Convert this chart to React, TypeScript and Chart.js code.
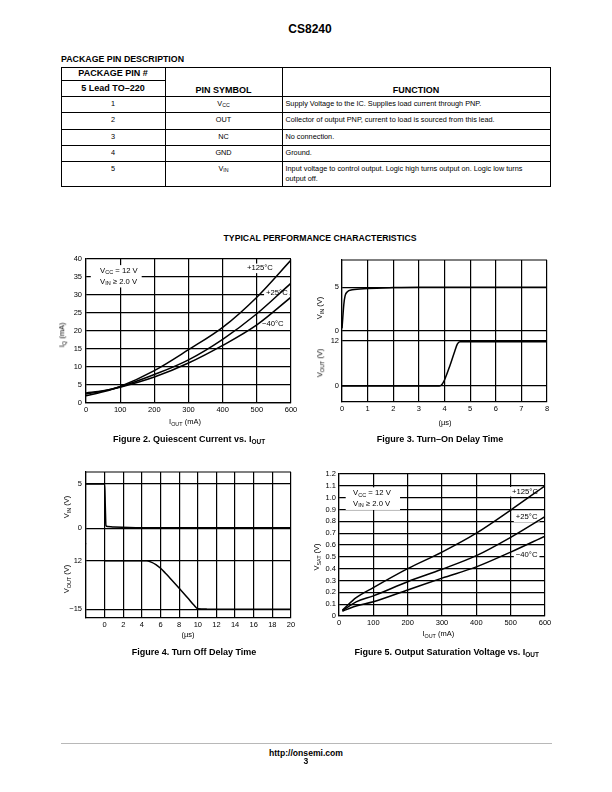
import React, { useEffect, useRef } from 'react';
import { Chart, registerables } from 'chart.js';

Chart.register(...registerables);

const FONT = "'Liberation Sans', Arial, Helvetica, sans-serif";
const NARROW = "'Liberation Sans Narrow', 'Arial Narrow', 'Liberation Sans', Arial, sans-serif";

// ---------- Figure 2: Quiescent Current vs. IOUT ----------
const fig2Iout = [0, 50, 100, 200, 300, 400, 500, 600];
const fig2Iq125 = [2.0, 3.1, 4.6, 9.0, 14.8, 21.0, 29.4, 39.7];
const fig2Iq25 = [2.5, 3.3, 4.5, 7.9, 12.0, 17.7, 24.8, 33.3];
const fig2IqM40 = [2.8, 3.4, 4.4, 7.2, 11.1, 16.0, 21.7, 29.4];
const fig2XTicks = [0, 100, 200, 300, 400, 500, 600];
const fig2YTicks = [0, 5, 10, 15, 20, 25, 30, 35, 40];

// ---------- Figure 3: Turn-On Delay Time ----------
const fig3VinTime = [0, 0.03, 0.07, 0.12, 0.2, 0.4, 1, 2, 3, 8];
const fig3Vin = [0.3, 1.5, 3.0, 4.0, 4.45, 4.7, 4.85, 4.95, 5.0, 5.0];
const fig3VoutTime = [0, 3.8, 3.9, 4.0, 4.2, 4.4, 4.5, 4.6, 8];
const fig3Vout = [0, 0, 0.4, 1.6, 5.2, 9.3, 11.2, 11.85, 11.85];
const fig3TimeTicks = [0, 1, 2, 3, 4, 5, 6, 7, 8];
const fig3VinTicks = [0, 5];
const fig3VoutTicks = [0, 12];

// ---------- Figure 4: Turn Off Delay Time ----------
const fig4VinTime = [-2, 0, 0.07, 0.14, 0.3, 1, 4, 20];
const fig4Vin = [5, 5, 2.5, 0.3, 0.2, 0.15, 0.06, 0.05];
const fig4VoutTime = [0, 4.5, 5, 5.5, 6, 6.5, 7, 8, 9, 9.6, 10, 11, 20];
const fig4Vout = [12, 12, 11.2, 9.8, 7.8, 5.2, 2.4, -3.3, -9.2, -12.8, -14.7, -14.9, -15];
const fig4TimeTicks = [-2, 0, 2, 4, 6, 8, 10, 12, 14, 16, 18, 20];
const fig4VinTicks = [0, 5];
const fig4VoutTicks = [-15, 12];

// ---------- Figure 5: Output Saturation Voltage vs. IOUT ----------
const fig5Iout = [10, 50, 100, 200, 300, 400, 500, 600];
const fig5Vsat125 = [0.05, 0.155, 0.24, 0.4, 0.54, 0.7, 0.895, 1.1];
const fig5Vsat25 = [0.045, 0.12, 0.17, 0.29, 0.395, 0.51, 0.665, 0.84];
const fig5VsatM40 = [0.04, 0.085, 0.12, 0.22, 0.32, 0.415, 0.54, 0.675];
const fig5XTicks = [0, 100, 200, 300, 400, 500, 600];
const fig5YTicks = [0, 0.1, 0.2, 0.3, 0.4, 0.5, 0.6, 0.7, 0.8, 0.9, 1.0, 1.1, 1.2];

const fmtNum = (v: number) => (v < 0 ? '\u2212' + Math.abs(v) : String(v));
const fmtDec = (v: number) => (v === 0 ? '0' : v.toFixed(1));
const fmtTime4 = (v: number) => (v === -2 ? '' : String(v));

type Part = { t: string; sub?: boolean };
type Note = { x: number; y: number; parts: Part[]; bg?: boolean };
type Box = { x0: number; x1: number; y0: number; y1: number };

const NOTE_SIZE = 7.7;

function measureRich(ctx: CanvasRenderingContext2D, parts: Part[], size: number) {
  let w = 0;
  parts.forEach((p) => {
    ctx.font = `${p.sub ? size * 0.72 : size}px ${FONT}`;
    w += ctx.measureText(p.t).width;
  });
  return w;
}

function drawRich(ctx: CanvasRenderingContext2D, parts: Part[], x: number, y: number, size: number) {
  let cx = x;
  ctx.textBaseline = 'middle';
  ctx.textAlign = 'left';
  ctx.fillStyle = '#000';
  parts.forEach((p) => {
    const fs = p.sub ? size * 0.72 : size;
    ctx.font = `${fs}px ${FONT}`;
    ctx.fillText(p.t, cx, p.sub ? y + size * 0.22 : y);
    cx += ctx.measureText(p.t).width;
  });
}

function makeFramePlugin(sides: string[]) {
  return {
    id: 'frame',
    afterDraw(chart: any) {
      if (!sides.length) return;
      const { ctx, chartArea: a } = chart;
      ctx.save();
      ctx.strokeStyle = '#000';
      ctx.lineWidth = 1.2;
      ctx.beginPath();
      if (sides.includes('top')) { ctx.moveTo(a.left, a.top); ctx.lineTo(a.right, a.top); }
      if (sides.includes('bottom')) { ctx.moveTo(a.left, a.bottom); ctx.lineTo(a.right, a.bottom); }
      if (sides.includes('left')) { ctx.moveTo(a.left, a.top); ctx.lineTo(a.left, a.bottom); }
      if (sides.includes('right')) { ctx.moveTo(a.right, a.top); ctx.lineTo(a.right, a.bottom); }
      ctx.stroke();
      ctx.restore();
    },
  };
}

function makeNotesPlugin(notes: Note[], box?: Box) {
  return {
    id: 'notes',
    beforeDatasetsDraw(chart: any) {
      const { ctx, scales } = chart;
      const xs = scales.x;
      const ys = scales.y;
      ctx.save();
      if (box) {
        const x0 = xs.getPixelForValue(box.x0);
        const x1 = xs.getPixelForValue(box.x1);
        const y0 = ys.getPixelForValue(box.y0);
        const y1 = ys.getPixelForValue(box.y1);
        ctx.fillStyle = '#fff';
        ctx.fillRect(x0, y0, x1 - x0, y1 - y0);
      }
      notes.forEach((n) => {
        const px = xs.getPixelForValue(n.x);
        const py = ys.getPixelForValue(n.y);
        if (n.bg) {
          const w = measureRich(ctx, n.parts, NOTE_SIZE);
          ctx.fillStyle = '#fff';
          ctx.fillRect(px - 2, py - NOTE_SIZE * 0.62, w + 4, NOTE_SIZE * 1.24);
        }
        drawRich(ctx, n.parts, px, py, NOTE_SIZE);
      });
      ctx.restore();
    },
  };
}

type AxisSpec = {
  min: number;
  max: number;
  ticks: number[];
  fmt?: (v: number) => string;
  show?: boolean;
  border?: boolean;
  pad?: number;
};

function axisOptions(spec: AxisSpec, kind: 'x' | 'y', size: number) {
  return {
    type: 'linear',
    position: kind === 'x' ? 'bottom' : 'left',
    min: spec.min,
    max: spec.max,
    afterBuildTicks: (s: any) => {
      s.ticks = spec.ticks.map((v) => ({ value: v }));
    },
    afterFit: (s: any) => {
      if (kind === 'x') s.height = size;
      else s.width = size;
    },
    ticks: {
      display: spec.show !== false,
      padding: spec.pad ?? 3,
      autoSkip: false,
      maxRotation: 0,
      minRotation: 0,
      color: '#000',
      font: { family: FONT, size: 7.5 },
      callback: (v: any) => (spec.fmt ? spec.fmt(Number(v)) : fmtNum(Number(v))),
    },
    grid: { color: '#000', lineWidth: 1.2, drawTicks: false },
    border: { display: spec.border !== false, color: '#000', width: 1.2 },
  };
}

type Series = { xs: number[]; ys: number[] };
type Area = { l: number; t: number; w: number; h: number };
type Pad = { left: number; top: number; right: number; bottom: number };

function ChartBox(props: {
  area: Area;
  pad: Pad;
  yW: number;
  xH: number;
  series: Series[];
  x: AxisSpec;
  y: AxisSpec;
  frame?: string[];
  notes?: Note[];
  box?: Box;
}) {
  const { area, pad, yW, xH } = props;
  const ref = useRef<HTMLCanvasElement>(null);
  const W = pad.left + yW + area.w + pad.right;
  const H = pad.top + area.h + xH + pad.bottom;
  useEffect(() => {
    const chart = new Chart(ref.current as HTMLCanvasElement, {
      type: 'line',
      data: {
        datasets: props.series.map((s) => ({
          data: s.xs.map((v, i) => ({ x: v, y: s.ys[i] })),
          borderColor: '#000',
          borderWidth: 1.5,
          pointRadius: 0,
          fill: false,
          cubicInterpolationMode: 'monotone',
        })),
      },
      options: {
        responsive: false,
        animation: false,
        devicePixelRatio: 1,
        events: [],
        layout: { padding: pad },
        plugins: { legend: { display: false }, tooltip: { enabled: false }, title: { display: false } },
        scales: {
          x: axisOptions(props.x, 'x', xH),
          y: axisOptions(props.y, 'y', yW),
        },
      } as any,
      plugins: [makeFramePlugin(props.frame || []), makeNotesPlugin(props.notes || [], props.box)],
    } as any);
    return () => chart.destroy();
  }, []);
  return (
    <canvas
      ref={ref}
      width={W}
      height={H}
      style={{ position: 'absolute', left: area.l - pad.left - yW, top: area.t - pad.top, width: W, height: H }}
    />
  );
}

const Sub = ({ children }: { children: React.ReactNode }) => (
  <span style={{ fontSize: '0.72em', position: 'relative', top: '0.28em' }}>{children}</span>
);

function Txt(props: {
  x: number;
  y: number;
  size?: number;
  bold?: boolean;
  rot?: boolean;
  start?: boolean;
  font?: string;
  children: React.ReactNode;
}) {
  const { x, y, size = 7.5, bold, rot, start, font = FONT, children } = props;
  return (
    <div
      style={{
        position: 'absolute',
        left: x,
        top: y,
        transform: `translate(${start ? '0' : '-50%'},-50%)${rot ? ' rotate(-90deg)' : ''}`,
        fontFamily: font,
        fontSize: size,
        fontWeight: bold ? 700 : 400,
        whiteSpace: 'nowrap',
        lineHeight: 1,
        color: '#000',
      }}
    >
      {children}
    </div>
  );
}

const HLine = ({ y, x0, x1, c = '#000', h = 1 }: { y: number; x0: number; x1: number; c?: string; h?: number }) => (
  <div style={{ position: 'absolute', left: x0, top: y, width: x1 - x0, height: h, background: c }} />
);
const VLine = ({ x, y0, y1 }: { x: number; y0: number; y1: number }) => (
  <div style={{ position: 'absolute', left: x, top: y0, width: 1, height: y1 - y0, background: '#000' }} />
);

const pinNumbers = ['1', '2', '3', '4', '5'];
const rowY = [103.5, 120, 136.5, 152.5, 169];

export default function App() {
  const tableFont = 7.3;
  const capSize = 9;
  const vccParts: Part[] = [{ t: 'V' }, { t: 'CC', sub: true }, { t: ' = 12 V' }];
  const vinParts: Part[] = [{ t: 'V' }, { t: 'IN', sub: true }, { t: ' \u2265 2.0 V' }];
  return (
    <div
      style={{
        position: 'absolute',
        left: 0,
        top: 0,
        width: 612,
        height: 792,
        background: '#fff',
        overflow: 'hidden',
        fontFamily: FONT,
      }}
    >
      <Txt x={310} y={29} size={12} bold>CS8240</Txt>
      <Txt x={61} y={59} size={8.8} bold start>PACKAGE PIN DESCRIPTION</Txt>

      {/* table grid */}
      <HLine y={67} x0={61} x1={551} />
      <HLine y={80} x0={61} x1={165} />
      <HLine y={96} x0={61} x1={551} />
      <HLine y={112} x0={61} x1={551} />
      <HLine y={129} x0={61} x1={551} />
      <HLine y={145} x0={61} x1={551} />
      <HLine y={161} x0={61} x1={551} />
      <HLine y={186} x0={61} x1={551} />
      <VLine x={61} y0={67} y1={187} />
      <VLine x={165} y0={67} y1={187} />
      <VLine x={282} y0={67} y1={187} />
      <VLine x={550} y0={67} y1={187} />

      <Txt x={113} y={73.3} size={9} bold font={NARROW}>PACKAGE PIN #</Txt>
      <Txt x={113} y={87.5} size={9} bold font={NARROW}>5 Lead TO–220</Txt>
      <Txt x={223.5} y={89.5} size={9} bold font={NARROW}>PIN SYMBOL</Txt>
      <Txt x={416} y={89.5} size={9} bold font={NARROW}>FUNCTION</Txt>

      {pinNumbers.map((n, i) => (
        <Txt key={n} x={113} y={rowY[i]} size={tableFont}>{n}</Txt>
      ))}
      <Txt x={223.5} y={rowY[0]} size={tableFont}>V<Sub>CC</Sub></Txt>
      <Txt x={223.5} y={rowY[1]} size={tableFont}>OUT</Txt>
      <Txt x={223.5} y={rowY[2]} size={tableFont}>NC</Txt>
      <Txt x={223.5} y={rowY[3]} size={tableFont}>GND</Txt>
      <Txt x={223.5} y={rowY[4]} size={tableFont}>V<Sub>IN</Sub></Txt>
      <Txt x={285.5} y={rowY[0]} size={tableFont} start>Supply Voltage to the IC. Supplies load current through PNP.</Txt>
      <Txt x={285.5} y={rowY[1]} size={tableFont} start>Collector of output PNP, current to load is sourced from this lead.</Txt>
      <Txt x={285.5} y={rowY[2]} size={tableFont} start>No connection.</Txt>
      <Txt x={285.5} y={rowY[3]} size={tableFont} start>Ground.</Txt>
      <Txt x={285.5} y={rowY[4]} size={tableFont} start>Input voltage to control output. Logic high turns output on. Logic low turns</Txt>
      <Txt x={285.5} y={178.5} size={tableFont} start>output off.</Txt>

      <Txt x={320} y={238} size={8.7} bold>TYPICAL PERFORMANCE CHARACTERISTICS</Txt>

      {/* Figure 2 */}
      <ChartBox
        area={{ l: 86, t: 259, w: 205, h: 144 }}
        pad={{ left: 0, top: 12, right: 12, bottom: 0 }}
        yW={46}
        xH={20}
        series={[
          { xs: fig2Iout, ys: fig2Iq125 },
          { xs: fig2Iout, ys: fig2Iq25 },
          { xs: fig2Iout, ys: fig2IqM40 },
        ]}
        x={{ min: 0, max: 600, ticks: fig2XTicks, pad: 2 }}
        y={{ min: 0, max: 40, ticks: fig2YTicks, pad: 4 }}
        box={{ x0: 14, x1: 163, y0: 38.3, y1: 32.1 }}
        notes={[
          { x: 41, y: 36.75, parts: vccParts },
          { x: 41, y: 33.7, parts: vinParts },
          { x: 471, y: 37.4, parts: [{ t: '+125°C' }], bg: true },
          { x: 527, y: 30.5, parts: [{ t: '+25°C' }], bg: true },
          { x: 515, y: 21.9, parts: [{ t: '\u221240°C' }], bg: true },
        ]}
      />
      <Txt x={62} y={335} rot>I<Sub>Q</Sub> (mA)</Txt>
      <Txt x={185} y={422}>I<Sub>OUT</Sub> (mA)</Txt>
      <Txt x={189} y={439} size={capSize} bold>Figure 2. Quiescent Current vs. I<Sub>OUT</Sub></Txt>

      {/* Figure 3 */}
      <ChartBox
        area={{ l: 342, t: 260, w: 205, h: 71 }}
        pad={{ left: 0, top: 12, right: 12, bottom: 10 }}
        yW={40}
        xH={0}
        series={[{ xs: fig3VinTime, ys: fig3Vin }]}
        x={{ min: 0, max: 8, ticks: fig3TimeTicks, show: false, border: false }}
        y={{ min: 0, max: 8.1, ticks: fig3VinTicks, pad: 3 }}
        frame={['top']}
      />
      <ChartBox
        area={{ l: 342, t: 331, w: 205, h: 71 }}
        pad={{ left: 0, top: 10, right: 12, bottom: 0 }}
        yW={40}
        xH={20}
        series={[{ xs: fig3VoutTime, ys: fig3Vout }]}
        x={{ min: 0, max: 8, ticks: fig3TimeTicks, pad: 2 }}
        y={{ min: -4.3, max: 14.7, ticks: fig3VoutTicks, pad: 3 }}
      />
      <Txt x={320} y={308} rot>V<Sub>IN</Sub> (V)</Txt>
      <Txt x={320} y={363} rot>V<Sub>OUT</Sub> (V)</Txt>
      <Txt x={445} y={422.7}>(µs)</Txt>
      <Txt x={440} y={439.3} size={capSize} bold>Figure 3. Turn–On Delay Time</Txt>

      {/* Figure 4 */}
      <ChartBox
        area={{ l: 86, t: 472, w: 205, h: 72 }}
        pad={{ left: 0, top: 12, right: 12, bottom: 10 }}
        yW={46}
        xH={0}
        series={[{ xs: fig4VinTime, ys: fig4Vin }]}
        x={{ min: -2, max: 20, ticks: fig4TimeTicks, show: false, border: false }}
        y={{ min: -1.77, max: 6.35, ticks: fig4VinTicks, pad: 4 }}
        frame={['top']}
      />
      <ChartBox
        area={{ l: 86, t: 544, w: 205, h: 74 }}
        pad={{ left: 0, top: 10, right: 12, bottom: 0 }}
        yW={46}
        xH={20}
        series={[{ xs: fig4VoutTime, ys: fig4Vout }]}
        x={{ min: -2, max: 20, ticks: fig4TimeTicks, fmt: fmtTime4, pad: 2 }}
        y={{ min: -19.83, max: 21.28, ticks: fig4VoutTicks, pad: 4 }}
      />
      <Txt x={66.7} y={506.7} rot>V<Sub>IN</Sub> (V)</Txt>
      <Txt x={66.7} y={579} rot>V<Sub>OUT</Sub> (V)</Txt>
      <Txt x={188} y={635}>(µs)</Txt>
      <Txt x={194} y={652} size={capSize} bold>Figure 4. Turn Off Delay Time</Txt>

      {/* Figure 5 */}
      <ChartBox
        area={{ l: 339, t: 474, w: 206, h: 142 }}
        pad={{ left: 0, top: 12, right: 12, bottom: 0 }}
        yW={36}
        xH={20}
        series={[
          { xs: fig5Iout, ys: fig5Vsat125 },
          { xs: fig5Iout, ys: fig5Vsat25 },
          { xs: fig5Iout, ys: fig5VsatM40 },
        ]}
        x={{ min: 0, max: 600, ticks: fig5XTicks, pad: 2 }}
        y={{ min: 0, max: 1.2, ticks: fig5YTicks, fmt: fmtDec, pad: 3 }}
        box={{ x0: 19.5, x1: 177.7, y0: 1.0876, y1: 0.896 }}
        notes={[
          { x: 41, y: 1.037, parts: vccParts },
          { x: 41, y: 0.946, parts: vinParts },
          { x: 504, y: 1.05, parts: [{ t: '+125°C' }], bg: true },
          { x: 515, y: 0.834, parts: [{ t: '+25°C' }], bg: true },
          { x: 515, y: 0.515, parts: [{ t: '\u221240°C' }], bg: true },
        ]}
      />
      <Txt x={316.7} y={556.7} rot>V<Sub>SAT</Sub> (V)</Txt>
      <Txt x={438.3} y={634.3}>I<Sub>OUT</Sub> (mA)</Txt>
      <Txt x={446.7} y={652.3} size={capSize} bold>Figure 5. Output Saturation Voltage vs. I<Sub>OUT</Sub></Txt>

      {/* footer */}
      <HLine y={742.5} x0={61} x1={552} c="#b8b8b8" h={1.5} />
      <Txt x={306} y={752.5} size={8.6} bold>http://onsemi.com</Txt>
      <Txt x={306} y={761} size={8.6} bold>3</Txt>
    </div>
  );
}
